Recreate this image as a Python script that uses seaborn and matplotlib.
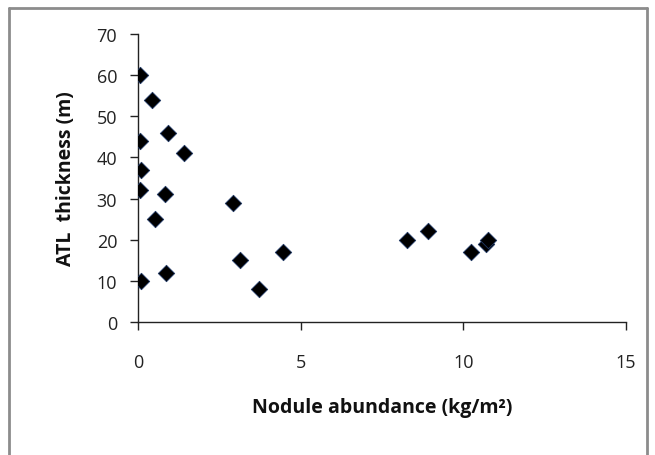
import numpy as np
import pandas as pd
import matplotlib
matplotlib.use("Agg")
import matplotlib.pyplot as plt
import seaborn as sns
from matplotlib.lines import Line2D

# Data
nodule_abundance = [0.05, 0.44, 0.91, 1.40, 0.05, 0.08, 0.05, 0.82, 0.51, 0.08,
                    0.85, 2.91, 3.15, 3.72, 4.45, 8.28, 8.91, 10.23, 10.70, 10.76]
atl_thickness = [60, 54, 46, 41, 44, 37, 32, 31, 25, 10,
                 12, 29, 15, 8, 17, 20, 22, 17, 19, 20]

x_ticks = [0, 5, 10, 15]
y_ticks = [0, 10, 20, 30, 40, 50, 60, 70]

df = pd.DataFrame({"abundance": nodule_abundance, "thickness": atl_thickness})

sns.set_style("ticks")
plt.rcParams["font.family"] = ["Open Sans", "DejaVu Sans"]

fig = plt.figure(figsize=(6.55, 4.56), dpi=100)
ax = fig.add_axes([138 / 655, 1 - 323 / 456, (626 - 138) / 655, (323 - 35) / 456])

sns.scatterplot(data=df, x="abundance", y="thickness", ax=ax, marker="D",
                s=70, color="black", edgecolor="#1f3864", linewidth=0.6, zorder=3)

ax.set_xlim(0, 15)
ax.set_ylim(0, 70)
ax.set_xticks(x_ticks)
ax.set_yticks(y_ticks)
ax.tick_params(axis="both", direction="out", length=6, width=1, colors="#222222",
               labelsize=13, labelcolor="#222222")
ax.tick_params(axis="x", pad=16)
ax.tick_params(axis="y", pad=9)
for sp in ["left", "bottom"]:
    ax.spines[sp].set_color("#222222")
    ax.spines[sp].set_linewidth(1)
sns.despine(ax=ax)

ax.set_xlabel("Nodule abundance (kg/m²)", fontsize=14, fontweight="bold",
              labelpad=19, color="#111111")
ax.set_ylabel("ATL  thickness (m)", fontsize=14, fontweight="bold",
              labelpad=15, color="#111111")

# outer chart frame (left, top, right edges)
frame_kw = dict(transform=fig.transFigure, color="#8c8c8c", linewidth=2)
l, r, t = 8.5 / 655, 646.5 / 655, 1 - 8.5 / 456
fig.add_artist(Line2D([l, l], [0, t], **frame_kw))
fig.add_artist(Line2D([l, r], [t, t], **frame_kw))
fig.add_artist(Line2D([r, r], [0, t], **frame_kw))

fig.savefig("out.png", dpi=100, facecolor="white")
